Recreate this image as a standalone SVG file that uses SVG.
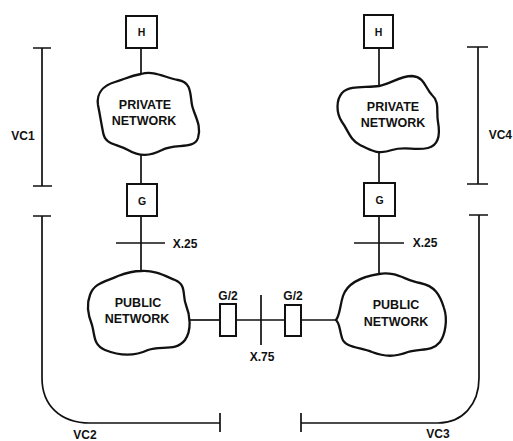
<svg xmlns="http://www.w3.org/2000/svg" width="513" height="441" viewBox="0 0 513 441">
<style>
.ln{stroke:#111;stroke-width:1.7;fill:none}
.box{stroke:#111;stroke-width:2;fill:#fff}
.cloud{stroke:#111;stroke-width:2.3;fill:#fff;stroke-linejoin:round}
.t{font-family:"Liberation Sans",Arial,sans-serif;font-weight:bold;fill:#111;text-anchor:middle;dominant-baseline:central}
.s10{font-size:10.5px}
.s12{font-size:12px}
.s13{font-size:12.5px}
</style>
<rect width="513" height="441" fill="#fff"/>
<g id="connectors">
<line class="ln" x1="141" y1="48" x2="141" y2="74"/>
<line class="ln" x1="141" y1="152" x2="141" y2="184"/>
<line class="ln" x1="141" y1="216" x2="141" y2="271"/>
<line class="ln" x1="379" y1="48" x2="379" y2="86"/>
<line class="ln" x1="379" y1="150" x2="379" y2="183"/>
<line class="ln" x1="379" y1="216" x2="379" y2="274"/>
<line class="ln" x1="188" y1="320" x2="220" y2="320"/>
<line class="ln" x1="236" y1="320" x2="285" y2="320"/>
<line class="ln" x1="301" y1="320" x2="336" y2="320"/>
<line class="ln" x1="116" y1="243" x2="165" y2="243"/>
<line class="ln" x1="354" y1="243" x2="404" y2="243"/>
<line class="ln" x1="261" y1="295" x2="261" y2="345"/>
</g>
<g id="brackets">
<path class="ln" d="M33 48 H51 M42 48 V186 M33 186 H52"/>
<path class="ln" d="M467 47 H488 M478 47 V184 M467 184 H488"/>
<path class="ln" d="M33 216 H51 M42 216 V378 C42 405 60 423 90 423 H220 M220 413 V432"/>
<path class="ln" d="M469 215 H488 M479 215 V378 C479 405 462 423 438 423 H301 M301 413 V432"/>
</g>
<g id="h-left"><rect class="box" x="126" y="16" width="31" height="32"/><text class="t s10" x="141.5" y="32">H</text></g>
<g id="h-right"><rect class="box" x="364" y="15" width="29" height="33"/><text class="t s10" x="378.5" y="32">H</text></g>
<g id="g-left"><rect class="box" x="127" y="184" width="30" height="32"/><text class="t s10" x="142" y="201">G</text></g>
<g id="g-right"><rect class="box" x="364" y="183" width="31" height="33"/><text class="t s10" x="379.5" y="200">G</text></g>
<g id="private-left">
<path class="cloud" d="M141 74 C155 70 165 78 178 80 C192 82 190 95 192 105 C194 115 202 125 198 138 C194 150 175 143 162 150 C150 156 140 157 128 150 C115 143 105 145 103 132 C101 122 100 115 98 105 C96 92 105 85 115 82 C125 79 130 76 141 74 Z"/>
<text class="t s13" x="145" y="105">PRIVATE</text>
<text class="t s13" x="144" y="121">NETWORK</text>
</g>
<g id="private-right">
<path class="cloud" d="M379 86 C390 84 400 76 412 76 C425 77 425 88 432 95 C440 102 436 112 438 122 C440 133 440 145 428 148 C415 151 405 146 392 150 C378 155 370 150 360 145 C350 140 348 130 342 122 C336 113 336 100 342 93 C350 85 365 88 379 86 Z"/>
<text class="t s13" x="393" y="107">PRIVATE</text>
<text class="t s13" x="393" y="123">NETWORK</text>
</g>
<g id="public-left">
<path class="cloud" d="M141 271 C155 270 165 276 175 280 C187 285 182 295 186 305 C190 315 192 330 185 340 C176 352 160 345 148 350 C135 356 120 356 105 350 C93 345 95 335 92 325 C88 315 86 305 90 295 C94 283 105 282 118 276 C126 273 133 271 141 271 Z"/>
<text class="t s13" x="138" y="303">PUBLIC</text>
<text class="t s13" x="137" y="319">NETWORK</text>
</g>
<g id="public-right">
<path class="cloud" d="M379 274 C395 271 405 280 420 283 C435 286 440 295 444 308 C448 320 445 335 440 342 C432 352 420 348 408 352 C395 357 385 357 372 352 C360 347 345 348 342 338 C339 328 340 324 336 320 C340 315 340 305 343 296 C347 284 360 277 379 274 Z"/>
<text class="t s13" x="396" y="305">PUBLIC</text>
<text class="t s13" x="396" y="322">NETWORK</text>
</g>
<g id="g2-left"><rect class="box" x="220" y="304" width="16" height="32"/><text class="t s12" x="228" y="296">G/2</text></g>
<g id="g2-right"><rect class="box" x="285" y="305" width="16" height="31"/><text class="t s12" x="293" y="296">G/2</text></g>
<g id="labels">
<text class="t s12" x="185" y="244">X.25</text>
<text class="t s12" x="425" y="243">X.25</text>
<text class="t s12" x="262" y="357">X.75</text>
<text class="t s12" x="23" y="136">VC1</text>
<text class="t s12" x="512" y="135" style="text-anchor:end">VC4</text>
<text class="t s12" x="85" y="435">VC2</text>
<text class="t s12" x="438" y="434">VC3</text>
</g>
</svg>
